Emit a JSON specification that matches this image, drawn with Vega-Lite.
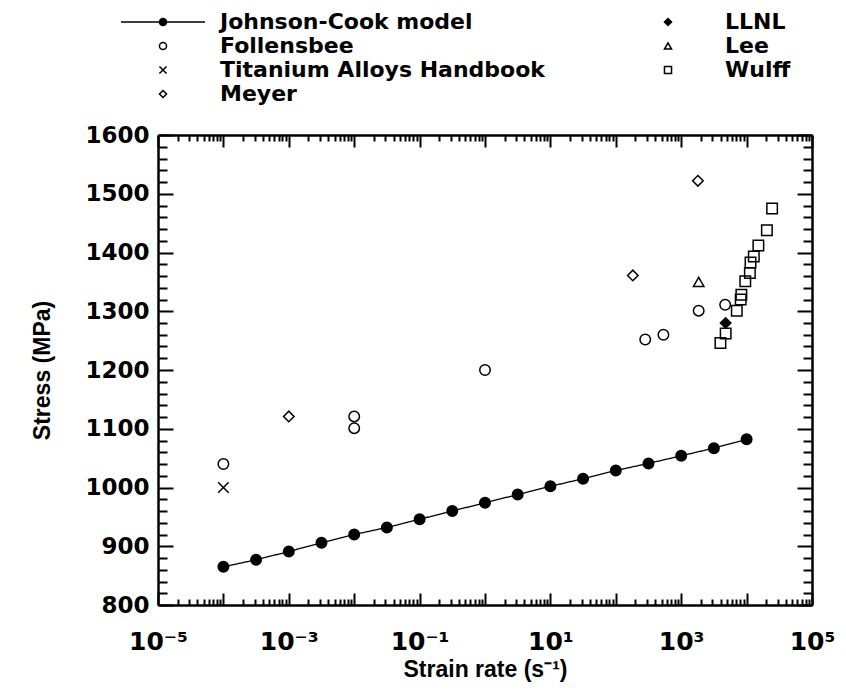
{
  "$schema": "https://vega.github.io/schema/vega-lite/v6.json",
  "width": 654,
  "height": 470,
  "autosize": {"type": "none"},
  "padding": {"left": 158, "top": 135, "right": 34, "bottom": 85},
  "background": "white",
  "config": {
    "view": {"stroke": null},
    "font": "DejaVu Sans",
    "axis": {
      "grid": false,
      "domainColor": "black",
      "domainWidth": 2.5,
      "tickColor": "black",
      "tickWidth": 2,
      "labelColor": "black",
      "titleColor": "black",
      "labelFont": "DejaVu Sans",
      "labelFontWeight": "bold",
      "titleFont": "Liberation Sans",
      "titleFontWeight": "bold",
      "labelOverlap": false,
      "labelFlush": false
    }
  },
  "data": {
    "values": [
      {"series": "Johnson-Cook model", "rate": 0.0001, "stress": 865},
      {"series": "Johnson-Cook model", "rate": 0.000316, "stress": 877},
      {"series": "Johnson-Cook model", "rate": 0.001, "stress": 891},
      {"series": "Johnson-Cook model", "rate": 0.00316, "stress": 906},
      {"series": "Johnson-Cook model", "rate": 0.01, "stress": 920},
      {"series": "Johnson-Cook model", "rate": 0.0316, "stress": 932},
      {"series": "Johnson-Cook model", "rate": 0.1, "stress": 946},
      {"series": "Johnson-Cook model", "rate": 0.316, "stress": 960},
      {"series": "Johnson-Cook model", "rate": 1, "stress": 974},
      {"series": "Johnson-Cook model", "rate": 3.16, "stress": 988},
      {"series": "Johnson-Cook model", "rate": 10, "stress": 1002},
      {"series": "Johnson-Cook model", "rate": 31.6, "stress": 1015},
      {"series": "Johnson-Cook model", "rate": 100, "stress": 1029},
      {"series": "Johnson-Cook model", "rate": 316, "stress": 1041},
      {"series": "Johnson-Cook model", "rate": 1000, "stress": 1054},
      {"series": "Johnson-Cook model", "rate": 3160, "stress": 1067},
      {"series": "Johnson-Cook model", "rate": 10000, "stress": 1082},
      {"series": "Follensbee", "rate": 0.0001, "stress": 1040},
      {"series": "Follensbee", "rate": 0.01, "stress": 1121},
      {"series": "Follensbee", "rate": 0.01, "stress": 1101},
      {"series": "Follensbee", "rate": 1, "stress": 1200},
      {"series": "Follensbee", "rate": 282, "stress": 1252},
      {"series": "Follensbee", "rate": 535, "stress": 1260},
      {"series": "Follensbee", "rate": 1850, "stress": 1301},
      {"series": "Follensbee", "rate": 4700, "stress": 1311},
      {"series": "Titanium Alloys Handbook", "rate": 0.0001, "stress": 1000},
      {"series": "Meyer", "rate": 0.001, "stress": 1121},
      {"series": "Meyer", "rate": 182, "stress": 1361},
      {"series": "Meyer", "rate": 1800, "stress": 1522},
      {"series": "LLNL", "rate": 4780, "stress": 1280},
      {"series": "Lee", "rate": 1850, "stress": 1350},
      {"series": "Wulff", "rate": 3981, "stress": 1246},
      {"series": "Wulff", "rate": 4786, "stress": 1262},
      {"series": "Wulff", "rate": 7079, "stress": 1301},
      {"series": "Wulff", "rate": 8128, "stress": 1320},
      {"series": "Wulff", "rate": 8318, "stress": 1328},
      {"series": "Wulff", "rate": 9550, "stress": 1351},
      {"series": "Wulff", "rate": 11220, "stress": 1365},
      {"series": "Wulff", "rate": 11480, "stress": 1383},
      {"series": "Wulff", "rate": 12880, "stress": 1393},
      {"series": "Wulff", "rate": 15140, "stress": 1412},
      {"series": "Wulff", "rate": 20420, "stress": 1438},
      {"series": "Wulff", "rate": 24550, "stress": 1475}
    ]
  },
  "layer": [
    {
      "transform": [{"filter": "datum.series == 'Johnson-Cook model'"}],
      "mark": {"type": "line", "color": "black", "strokeWidth": 1.3},
      "encoding": {
        "x": {
          "field": "rate", "type": "quantitative",
          "scale": {"type": "log", "domain": [0.00001, 100000], "nice": false},
          "axis": {
            "orient": "bottom",
            "values": [0.00001,0.00002,0.00003,0.00004,0.00005,0.00006,0.00007,0.00008,0.00009,0.0001,0.0002,0.0003,0.0004,0.0005,0.0006,0.0007,0.0008,0.0009,0.001,0.002,0.003,0.004,0.005,0.006,0.007,0.008,0.009,0.01,0.02,0.03,0.04,0.05,0.06,0.07,0.08,0.09,0.1,0.2,0.3,0.4,0.5,0.6,0.7,0.8,0.9,1,2,3,4,5,6,7,8,9,10,20,30,40,50,60,70,80,90,100,200,300,400,500,600,700,800,900,1000,2000,3000,4000,5000,6000,7000,8000,9000,10000,20000,30000,40000,50000,60000,70000,80000,90000,100000],
            "labelExpr": "datum.value == 0.00001 ? '10⁻⁵' : datum.value == 0.001 ? '10⁻³' : datum.value == 0.1 ? '10⁻¹' : datum.value == 10 ? '10¹' : datum.value == 1000 ? '10³' : datum.value == 100000 ? '10⁵' : ''",
            "tickSize": {"condition": {"test": "abs(log(datum.value)/LN10 - round(log(datum.value)/LN10)) < 0.001", "value": -12}, "value": -6},
            "labelFontSize": 25,
            "labelPadding": 36,
            "title": "Strain rate (s⁻¹)",
            "titleFontSize": 23,
            "titlePadding": -2
          }
        },
        "y": {
          "field": "stress", "type": "quantitative",
          "scale": {"domain": [800, 1600], "nice": false, "zero": false},
          "axis": {
            "orient": "left",
            "values": [800,820,840,860,880,900,920,940,960,980,1000,1020,1040,1060,1080,1100,1120,1140,1160,1180,1200,1220,1240,1260,1280,1300,1320,1340,1360,1380,1400,1420,1440,1460,1480,1500,1520,1540,1560,1580,1600],
            "labelExpr": "datum.value % 100 == 0 ? '' + datum.value : ''",
            "tickSize": {"condition": {"test": "datum.value % 100 == 0", "value": -15}, "value": -9},
            "labelFontSize": 23,
            "labelPadding": 24,
            "title": "Stress  (MPa)",
            "titleFontSize": 23,
            "titlePadding": 30
          }
        },
        "strokeDash": {
          "field": "series", "type": "nominal",
          "scale": {"domain": ["Johnson-Cook model"], "range": [[1, 0]]},
          "legend": {
            "title": null,
            "orient": "none",
            "legendX": -38,
            "legendY": -156,
            "padding": 0,
            "symbolType": "stroke",
            "symbolSize": 7056,
            "symbolStrokeColor": "black",
            "symbolStrokeWidth": 1.3,
            "labelExpr": "''",
            "labelFontSize": 1
          }
        }
      }
    },
    {
      "mark": {"type": "point", "filled": true, "stroke": "black", "strokeWidth": 1.5, "size": 110},
      "encoding": {
        "x": {
          "field": "rate", "type": "quantitative",
          "axis": {
            "orient": "top",
            "values": [0.00001,0.00002,0.00003,0.00004,0.00005,0.00006,0.00007,0.00008,0.00009,0.0001,0.0002,0.0003,0.0004,0.0005,0.0006,0.0007,0.0008,0.0009,0.001,0.002,0.003,0.004,0.005,0.006,0.007,0.008,0.009,0.01,0.02,0.03,0.04,0.05,0.06,0.07,0.08,0.09,0.1,0.2,0.3,0.4,0.5,0.6,0.7,0.8,0.9,1,2,3,4,5,6,7,8,9,10,20,30,40,50,60,70,80,90,100,200,300,400,500,600,700,800,900,1000,2000,3000,4000,5000,6000,7000,8000,9000,10000,20000,30000,40000,50000,60000,70000,80000,90000,100000],
            "labels": false,
            "title": null,
            "tickSize": {"condition": {"test": "abs(log(datum.value)/LN10 - round(log(datum.value)/LN10)) < 0.001", "value": -12}, "value": -6}
          }
        },
        "y": {
          "field": "stress", "type": "quantitative",
          "axis": {
            "orient": "right",
            "values": [800,820,840,860,880,900,920,940,960,980,1000,1020,1040,1060,1080,1100,1120,1140,1160,1180,1200,1220,1240,1260,1280,1300,1320,1340,1360,1380,1400,1420,1440,1460,1480,1500,1520,1540,1560,1580,1600],
            "labels": false,
            "title": null,
            "tickSize": {"condition": {"test": "datum.value % 100 == 0", "value": -15}, "value": -9}
          }
        },
        "shape": {
          "field": "series", "type": "nominal",
          "scale": {
            "domain": ["Johnson-Cook model", "Follensbee", "Titanium Alloys Handbook", "Meyer", "LLNL", "Lee", "Wulff"],
            "range": ["circle", "circle", "M-1,-1L1,1M-1,1L1,-1", "diamond", "diamond", "triangle-up", "square"]
          },
          "legend": null
        },
        "color": {
          "field": "series", "type": "nominal",
          "scale": {
            "domain": ["Johnson-Cook model", "Follensbee", "Titanium Alloys Handbook", "Meyer", "LLNL", "Lee", "Wulff"],
            "range": ["black", "transparent", "transparent", "transparent", "black", "transparent", "transparent"]
          },
          "legend": {
            "title": null,
            "orient": "none",
            "legendX": -6,
            "legendY": -124,
            "columns": 2,
            "direction": "vertical",
            "padding": 0,
            "symbolSize": 50,
            "labelFont": "DejaVu Sans",
            "labelFontWeight": "bold",
            "labelFontSize": 22,
            "labelColor": "black",
            "labelLimit": 0,
            "labelOffset": 46,
            "rowPadding": 2,
            "columnPadding": 112,
            "encode": {
              "symbols": {
                "stroke": {"value": "black"},
                "strokeWidth": {"value": 1.4},
                "opacity": {"value": 1}
              }
            }
          }
        },
        "opacity": {"value": 1}
      }
    }
  ],
  "resolve": {"axis": {"x": "independent", "y": "independent"}}
}
